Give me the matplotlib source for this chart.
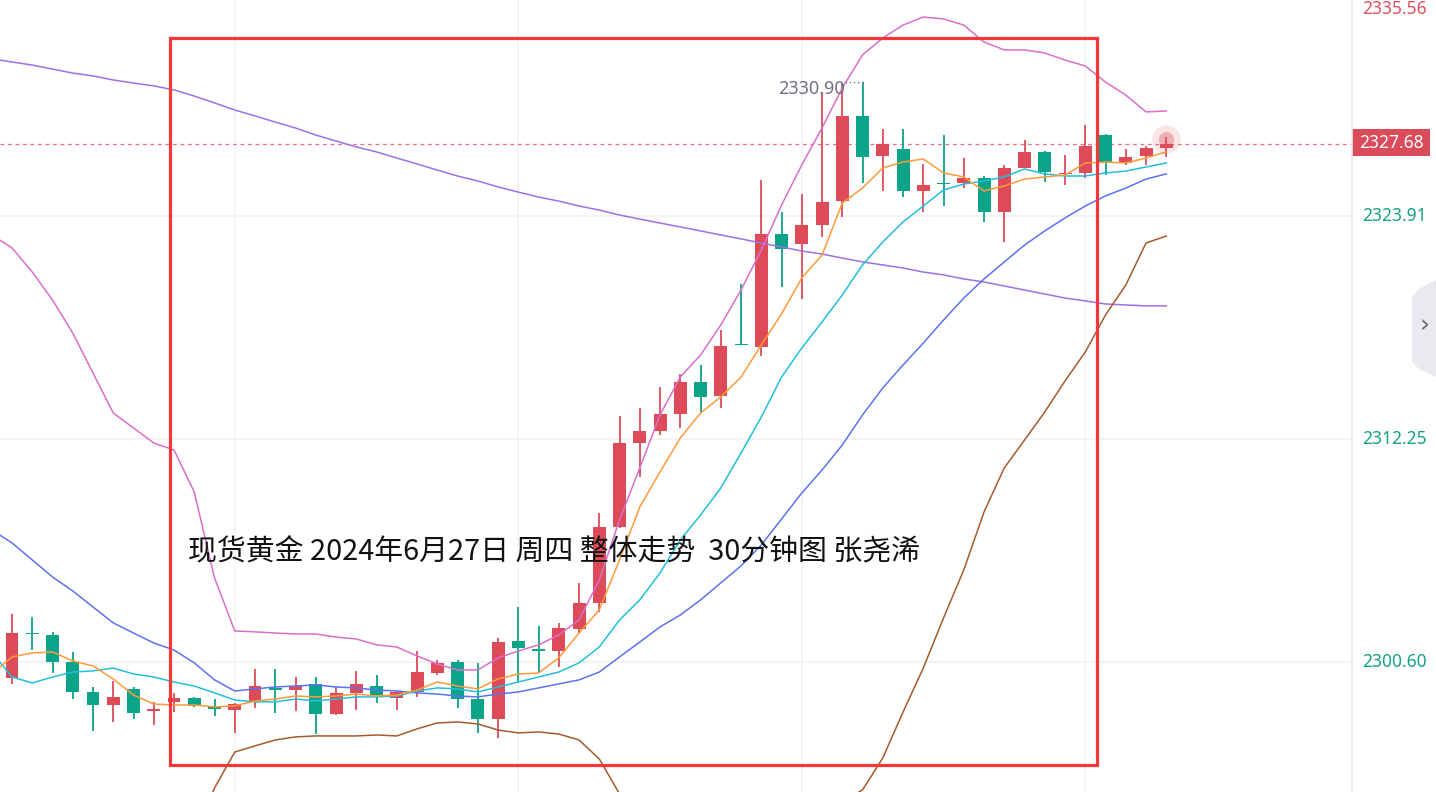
import matplotlib
matplotlib.use('Agg')
import matplotlib.pyplot as plt
from matplotlib import patches, transforms
from matplotlib.lines import Line2D

plt.rcParams['font.family'] = ['Noto Sans CJK SC', 'DejaVu Sans']

# 30分钟K线 (开, 高, 低, 收)
opens = [2299.76, 2302.11, 2302.01, 2300.60, 2299.03, 2298.35, 2299.19, 2298.04, 2298.51, 2298.72,
         2298.30, 2298.09, 2298.56, 2299.24, 2299.13, 2299.45, 2297.88, 2298.98, 2299.34, 2298.72,
         2299.03, 2300.02, 2300.60, 2298.66, 2297.62, 2301.69, 2301.27, 2301.17, 2302.32, 2303.68,
         2307.65, 2312.04, 2312.67, 2313.56, 2315.23, 2314.50, 2317.22, 2317.06, 2322.97, 2322.45,
         2323.44, 2324.69, 2329.14, 2327.05, 2327.41, 2325.22, 2325.63, 2325.63, 2325.90, 2324.12,
         2326.42, 2327.26, 2326.11, 2326.16, 2328.14, 2326.68, 2327.05, 2327.46]
highs = [2303.11, 2302.95, 2302.17, 2301.12, 2299.29, 2299.60, 2299.29, 2298.51, 2298.98, 2298.77,
         2298.66, 2298.45, 2300.23, 2300.23, 2299.81, 2299.81, 2299.29, 2300.13, 2299.92, 2299.08,
         2301.17, 2300.70, 2300.70, 2300.55, 2301.85, 2303.47, 2302.48, 2302.64, 2304.73, 2308.39,
         2313.46, 2313.87, 2314.97, 2315.65, 2316.12, 2317.95, 2320.36, 2325.79, 2324.12, 2325.06,
         2330.40, 2330.86, 2330.90, 2328.46, 2328.46, 2326.63, 2328.14, 2326.94, 2326.00, 2326.58,
         2327.88, 2327.30, 2327.10, 2328.67, 2328.20, 2327.41, 2327.57, 2328.04]
lows = [2299.45, 2301.22, 2300.02, 2298.66, 2296.99, 2297.46, 2297.62, 2297.30, 2297.98, 2298.25,
        2297.77, 2296.89, 2298.19, 2297.93, 2298.04, 2296.83, 2297.85, 2298.09, 2298.45, 2298.09,
        2298.77, 2299.92, 2298.19, 2296.89, 2296.63, 2299.55, 2300.02, 2300.34, 2302.11, 2303.21,
        2307.60, 2310.27, 2312.46, 2312.83, 2313.61, 2313.87, 2317.17, 2316.59, 2320.20, 2319.57,
        2322.81, 2323.86, 2325.63, 2325.22, 2324.90, 2324.12, 2324.43, 2325.37, 2323.60, 2322.55,
        2326.40, 2325.69, 2325.53, 2325.90, 2326.05, 2326.58, 2326.58, 2326.99]
closes = [2302.11, 2302.06, 2300.60, 2299.03, 2298.35, 2298.77, 2297.93, 2298.14, 2298.72, 2298.30,
          2298.14, 2298.40, 2299.34, 2299.13, 2299.34, 2297.88, 2298.98, 2299.45, 2298.87, 2299.03,
          2300.07, 2300.55, 2298.66, 2297.62, 2301.64, 2301.33, 2301.17, 2302.37, 2303.68, 2307.65,
          2312.04, 2312.67, 2313.56, 2315.23, 2314.45, 2317.11, 2317.17, 2322.97, 2322.19, 2323.44,
          2324.64, 2329.14, 2326.99, 2327.67, 2325.22, 2325.53, 2325.58, 2325.90, 2324.12, 2326.42,
          2327.26, 2326.21, 2326.16, 2327.57, 2326.68, 2326.99, 2327.46, 2327.68]

# 均线与布林带 (读图所得, 第一个值属于画面左侧之外的前一根K线)
ma5 = [2299.97, 2300.86, 2301.07, 2301.12, 2300.65, 2300.39, 2299.71, 2298.87, 2298.40, 2298.35, 2298.35,
       2298.25, 2298.30, 2298.56, 2298.66, 2298.82, 2298.77, 2298.82, 2298.92, 2298.82, 2298.87,
       2299.13, 2299.55, 2299.34, 2299.19, 2299.71, 2299.97, 2300.02, 2300.81, 2302.11, 2303.32,
       2305.93, 2308.70, 2310.53, 2312.31, 2313.61, 2314.45, 2315.49, 2317.17, 2318.79, 2320.67,
       2321.87, 2324.59, 2325.37, 2326.42, 2326.73, 2326.89, 2326.16, 2325.95, 2325.22, 2325.48,
       2325.84, 2325.95, 2326.05, 2326.68, 2326.73, 2326.68, 2326.94, 2327.26]
ma10 = [2301.12, 2299.81, 2299.50, 2299.81, 2300.07, 2300.13, 2300.28, 2299.97, 2299.81, 2299.55, 2299.34,
        2298.98, 2298.61, 2298.51, 2298.51, 2298.66, 2298.56, 2298.66, 2298.77, 2298.77, 2298.82,
        2299.08, 2299.24, 2299.19, 2299.03, 2299.29, 2299.55, 2299.81, 2300.07, 2300.55, 2301.38,
        2302.79, 2303.84, 2305.25, 2306.97, 2308.28, 2309.69, 2311.52, 2313.40, 2315.49, 2317.01,
        2318.37, 2319.78, 2321.35, 2322.55, 2323.60, 2324.43, 2325.27, 2325.58, 2325.74, 2325.95,
        2326.37, 2326.11, 2326.00, 2326.00, 2326.16, 2326.26, 2326.47, 2326.68]
boll_mid = [2307.50, 2306.82, 2305.93, 2305.04, 2304.31, 2303.47, 2302.64, 2302.11, 2301.59, 2301.22, 2300.55,
            2299.66, 2299.08, 2299.19, 2299.29, 2299.34, 2299.40, 2299.29, 2299.24, 2299.13, 2299.08,
            2298.98, 2298.92, 2298.82, 2298.77, 2298.92, 2299.03, 2299.24, 2299.45, 2299.66, 2300.07,
            2300.86, 2301.64, 2302.43, 2303.05, 2303.84, 2304.73, 2305.62, 2306.71, 2308.07, 2309.43,
            2310.63, 2311.94, 2313.51, 2314.92, 2316.12, 2317.27, 2318.47, 2319.62, 2320.62, 2321.51,
            2322.39, 2323.13, 2323.81, 2324.43, 2324.96, 2325.37, 2325.84, 2326.11]
boll_up = [2322.92, 2322.24, 2320.98, 2319.52, 2317.79, 2315.70, 2313.61, 2312.83, 2312.04, 2311.68, 2309.48,
           2304.99, 2302.22, 2302.17, 2302.11, 2302.06, 2302.06, 2301.90, 2301.80, 2301.49, 2301.38,
           2300.91, 2300.49, 2300.18, 2300.18, 2300.81, 2301.17, 2301.49, 2302.01, 2302.79, 2304.88,
           2308.02, 2310.74, 2313.51, 2315.49, 2316.64, 2318.21, 2320.04, 2322.13, 2324.48, 2326.58,
           2328.51, 2330.60, 2332.33, 2333.21, 2333.89, 2334.31, 2334.21, 2333.89, 2333.00, 2332.59,
           2332.59, 2332.43, 2332.06, 2331.75, 2330.91, 2330.23, 2329.35, 2329.40]
boll_low = [2291.56, 2291.40, 2290.88, 2290.56, 2290.82, 2291.24, 2291.66, 2291.40, 2291.14, 2290.77, 2291.61,
            2294.01, 2295.89, 2296.21, 2296.52, 2296.68, 2296.73, 2296.73, 2296.73, 2296.78, 2296.73,
            2297.10, 2297.41, 2297.46, 2297.36, 2297.04, 2296.89, 2296.94, 2296.83, 2296.52, 2295.53,
            2293.70, 2292.55, 2291.35, 2290.61, 2291.03, 2291.24, 2291.19, 2291.29, 2291.66, 2292.29,
            2292.76, 2293.28, 2293.91, 2295.58, 2297.98, 2300.28, 2302.90, 2305.41, 2308.44, 2310.74,
            2312.20, 2313.67, 2315.29, 2316.80, 2318.74, 2320.30, 2322.50, 2322.86]
ma_long = [2332.12, 2331.96, 2331.80, 2331.59, 2331.38, 2331.23, 2331.02, 2330.86, 2330.71, 2330.50, 2330.18,
           2329.82, 2329.45, 2329.14, 2328.82, 2328.51, 2328.14, 2327.83, 2327.52, 2327.26, 2326.94,
           2326.63, 2326.31, 2326.00, 2325.74, 2325.43, 2325.16, 2324.90, 2324.69, 2324.43, 2324.22,
           2323.96, 2323.75, 2323.54, 2323.34, 2323.13, 2322.92, 2322.71, 2322.50, 2322.29, 2322.08,
           2321.92, 2321.71, 2321.51, 2321.35, 2321.19, 2320.98, 2320.83, 2320.62, 2320.46, 2320.25,
           2320.04, 2319.83, 2319.62, 2319.47, 2319.31, 2319.26, 2319.21, 2319.21]

grid_prices = [2323.91, 2312.25, 2300.60]
last_price = 2327.68
top_label = 2335.56
max_high = 2330.90
title = '现货黄金 2024年6月27日 周四 整体走势  30分钟图 张尧浠'

W, H = 1436, 792
UP, DOWN = '#DD4B59', '#0BA488'

fig = plt.figure(figsize=(W / 100, H / 100), dpi=100)
fig.patch.set_facecolor('white')
ax = fig.add_axes([0, 0, 1352 / W, 1])
ax.set_axis_off()
ax.set_xlim(-0.593, 66.17)
ax.set_ylim(2293.80, 2335.20)

# 网格
for p in grid_prices:
    ax.axhline(p, color='#f1f1f4', lw=1.2, zorder=0)
for gx in [11, 25, 39, 53]:
    ax.axvline(gx, color='#f4f4f7', lw=1.2, zorder=0)

# K线
n = len(opens)
for i in range(n):
    o, h, l, c = opens[i], highs[i], lows[i], closes[i]
    col = UP if c >= o else DOWN
    ax.vlines(i, l, h, color=col, lw=1.3, zorder=2)
    ax.bar(i, max(abs(c - o), 0.07), bottom=min(o, c), width=0.64, color=col, zorder=2)

x = list(range(-1, n))
ax.plot(x, ma_long, color='#9A72E6', lw=1.1, zorder=3)
ax.plot(x, boll_up, color='#D96FCB', lw=1.1, zorder=3)
ax.plot(x, boll_low, color='#A65A2E', lw=1.1, zorder=3)
ax.plot(x, boll_mid, color='#5C72F2', lw=1.1, zorder=3)
ax.plot(x, ma10, color='#22BFDB', lw=1.1, zorder=3)
ax.plot(x, ma5, color='#FF9A3A', lw=1.1, zorder=4)

# 现价虚线
ax.axhline(last_price, color='#E5707B', lw=0.9, ls=(0, (3, 3)), zorder=1)
ax.scatter([n - 1], [last_price + 0.25], s=420, color=UP, alpha=0.14, lw=0, zorder=5)
ax.scatter([n - 1], [last_price + 0.25], s=120, color=UP, alpha=0.35, lw=0, zorder=5)

# 最高价标注
ax.plot([41.15, 42], [max_high, max_high], color='#6f7381', lw=1, ls=(0, (1, 2)), zorder=5)
ax.text(41.15, max_high + 0.1, f'{max_high:.2f}', color='#6f7381', fontsize=13,
        family=['Noto Sans', 'DejaVu Sans'], ha='right', va='top', zorder=5)

# 标题文字
fig.text(188 / W, 1 - 552 / H, title, fontsize=20.8, color='#111111', ha='left', va='center')

# 红框
fig.add_artist(patches.Rectangle((170 / W, 1 - 765 / H), (1097 - 170) / W, (765 - 38) / H,
                                 transform=fig.transFigure, fill=False, ec='#F33838', lw=2.3))

# 右侧价格轴
fig.add_artist(Line2D([1352 / W, 1352 / W], [0, 1], transform=fig.transFigure, color='#ebebf0', lw=1.2))
trans = transforms.blended_transform_factory(fig.transFigure, ax.transData)
for p in grid_prices:
    fig.text(1362 / W, p, f'{p:.2f}', transform=trans, color='#14A386', fontsize=12.5,
             family=['Noto Sans', 'DejaVu Sans'], ha='left', va='center')
fig.text(1362 / W, 1 - 9 / H, f'{top_label:.2f}', color='#E0505E', fontsize=12.5,
         family=['Noto Sans', 'DejaVu Sans'], ha='left', va='center')
fig.add_artist(patches.Rectangle((1352 / W, 1 - 156 / H), 78 / W, 27 / H,
                                 transform=fig.transFigure, fc='#DB4B59', ec='none'))
fig.text(1391 / W, 1 - 143 / H, f'{last_price:.2f}', color='white', fontsize=12.5,
         family=['Noto Sans', 'DejaVu Sans'], ha='center', va='center')

# 右侧折叠按钮
tab = [(1436, 280), (1419, 289), (1412, 297), (1412, 362), (1419, 369), (1436, 377)]
fig.add_artist(patches.Polygon([(px / W, 1 - py / H) for px, py in tab], closed=True,
                               transform=fig.transFigure, fc='#e9e9ef', ec='none'))
fig.text(1425 / W, 1 - 326 / H, '›', color='#666a78', fontsize=18,
         family=['DejaVu Sans'], ha='center', va='center')

fig.savefig('out.png', dpi=100, facecolor='white')
